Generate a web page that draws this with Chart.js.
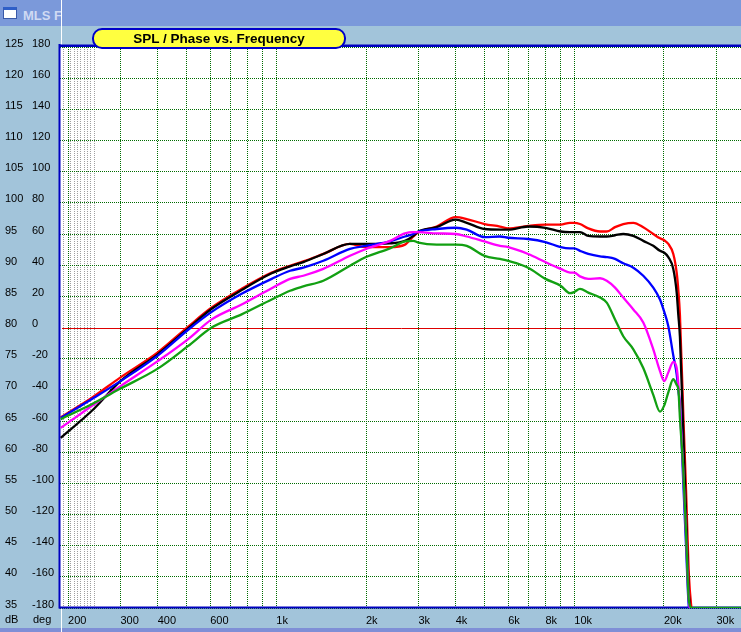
<!DOCTYPE html>
<html><head><meta charset="utf-8">
<script src="https://cdn.jsdelivr.net/npm/chart.js@4.4.1/dist/chart.umd.min.js"></script>
<style>
html,body{margin:0;padding:0;width:741px;height:632px;overflow:hidden;background:#a2c4da;}
#wrap{position:relative;width:741px;height:632px;}
#topbar{position:absolute;left:0;top:0;width:741px;height:26px;background:#7b99da;}
#bottombar{position:absolute;left:0;top:628px;width:741px;height:4px;background:#7f8fd6;}
#vline{position:absolute;left:61px;top:0;width:1px;height:632px;background:#ffffff;}
#icon{position:absolute;left:3px;top:7px;width:12px;height:8px;background:#fff;border:1px solid #3a5aa8;border-top:3px solid #2f5fc8;}
#wtitle{position:absolute;left:23px;top:8px;width:38px;overflow:hidden;white-space:nowrap;font:bold 13px "Liberation Sans",Arial,sans-serif;color:#cfdaf3;}
canvas{position:absolute;left:0;top:0;}
#title{position:absolute;left:92px;top:28px;width:250px;height:17px;background:#ffff40;border:2px solid #0000c8;border-radius:10px;font:bold 13.5px "Liberation Sans",Arial,sans-serif;text-align:center;line-height:17px;color:#000;z-index:3;}
.unit{position:absolute;top:613px;font:11px "Liberation Sans",Arial,sans-serif;color:#000;z-index:3;}
</style></head>
<body><div id="wrap">
<div id="topbar"></div><div id="bottombar"></div>
<div id="icon"></div><div id="wtitle">MLS Frequency</div>
<div id="vline"></div>
<canvas id="c" width="741" height="632"></canvas>
<div id="title">SPL / Phase vs. Frequency</div>
<span class="unit" style="left:5px">dB</span><span class="unit" style="left:33px">deg</span>
</div>
<script>
// ---- data ----
const freqHz = [189,240,300,400,505,607,765,965,1112,1232,1438,1767,2000,2407,2703,2883,3000,3453,4000,4355,5000,5632,6000,7000,8000,9000,9675,10000,10450,11140,12200,12850,13700,14600,15780,17040,18410,19390,20040,20680,21490,22060,22340,22620,23220,23710,24260,24830,30000,36260];
const splRed     = [65.6,68.7,72.0,76.0,80.1,83.2,86.2,88.8,89.9,90.6,91.8,93.4,92.9,92.9,93.3,94.6,95.3,96.2,97.7,97.4,96.6,96.2,95.9,96.3,96.5,96.5,96.8,96.8,96.6,95.9,95.4,95.4,96.1,96.6,96.8,96.1,95.0,94.3,94.0,93.4,91.8,88.8,86.0,82.0,66.0,54.0,40.0,34.0,null,null];
const splBlack   = [62.3,66.6,71.4,75.7,79.8,83.0,86.0,88.7,89.8,90.5,91.8,93.4,93.4,93.5,93.9,94.7,95.4,96.1,97.3,96.8,95.8,95.7,95.7,96.2,96.0,95.4,95.3,95.3,95.3,94.7,94.6,94.6,94.8,95.0,94.7,93.9,93.1,92.3,92.0,91.3,89.4,85.6,82.0,78.5,63.0,50.0,37.0,34.0,null,null];
const splBlue    = [65.5,68.5,71.4,75.5,79.6,82.5,85.4,87.8,89.1,89.6,90.7,92.6,93.1,93.8,94.6,95.0,95.4,95.8,96.0,95.7,94.5,94.6,94.4,94.2,93.7,92.9,92.7,92.7,92.3,91.8,91.4,91.3,91.0,90.3,89.6,88.3,86.4,84.5,82.5,80.2,75.5,72.5,70.0,67.5,55.0,45.0,35.0,34.0,null,null];
const splMagenta = [63.9,67.4,70.6,74.6,78.1,81.3,83.7,86.3,87.8,88.3,89.4,91.5,92.6,93.9,95.1,95.3,95.3,95.1,95.0,94.6,93.8,93.1,92.9,91.8,90.5,89.4,88.8,88.8,88.2,87.8,87.9,87.5,86.4,84.8,82.9,80.8,76.5,73.0,71.4,72.8,74.5,73.5,71.0,67.0,57.0,47.0,36.0,34.0,null,null];
const splGreen   = [65.3,67.7,70.2,73.4,77.0,80.0,82.1,84.5,85.9,86.6,87.5,89.9,91.3,92.7,93.8,93.9,93.6,93.3,93.3,93.1,91.5,91.0,90.7,89.6,87.8,86.7,85.5,85.7,86.2,85.6,84.8,84.0,81.3,78.6,76.5,73.5,69.2,66.5,67.5,69.6,71.7,70.8,70.1,65.5,57.0,47.0,36.0,35.0,35.0,35.0];
const freqMajor = [200,300,400,500,600,700,800,900,1000,2000,3000,4000,5000,6000,7000,8000,9000,10000,20000,30000];
const freqMajorLabels = ['200','300','400','','600','','','','1k','2k','3k','4k','','6k','','8k','','10k','20k','30k'];
const freqMinor = [193,204,209.5,215,221,226.6,232.7,238.8,245.2];
const FMIN = 188, FMAX = 36260;

const series = [
  {label:'green', data:splGreen, color:'#12a012'},
  {label:'magenta', data:splMagenta, color:'#ff00ff'},
  {label:'blue', data:splBlue, color:'#0000ff'},
  {label:'black', data:splBlack, color:'#000000'},
  {label:'red', data:splRed, color:'#ff0000'}
];
const datasets = series.map(s => ({
  label:s.label,
  data: freqHz.map((f,i) => ({x:f, y:s.data[i]})).filter(p => p.y !== null),
  borderColor:s.color, backgroundColor:s.color, borderWidth:2.3,
  pointRadius:0, cubicInterpolationMode:'monotone', fill:false
}));

const font = {family:'"Liberation Sans", Arial, sans-serif', size:11};
const isMinor = v => freqMinor.indexOf(v) >= 0;

const framePlugin = {
  id:'frame',
  beforeDraw(c){
    const {ctx, chartArea:a} = c;
    ctx.save(); ctx.fillStyle = '#ffffff';
    ctx.fillRect(a.left, a.top, a.right - a.left, a.bottom - a.top);
    ctx.restore();
  },
  beforeDatasetsDraw(c){
    const {ctx, chartArea:a} = c;
    const y80 = c.scales.y.getPixelForValue(80);
    ctx.save();
    ctx.strokeStyle = '#dd0000'; ctx.lineWidth = 1;
    ctx.beginPath(); ctx.moveTo(a.left + 2, Math.round(y80)+0.5); ctx.lineTo(a.right, Math.round(y80)+0.5); ctx.stroke();
    ctx.strokeStyle = '#0000c0';
    ctx.lineWidth = 2.5;
    ctx.beginPath(); ctx.moveTo(a.left - 1, a.top - 1.25); ctx.lineTo(a.right, a.top - 1.25); ctx.stroke();
    ctx.lineWidth = 2;
    ctx.beginPath(); ctx.moveTo(a.left - 1, a.bottom - 0.5); ctx.lineTo(a.right, a.bottom - 0.5); ctx.stroke();
    ctx.beginPath(); ctx.moveTo(a.left - 0.5, a.top - 3); ctx.lineTo(a.left - 0.5, a.bottom + 0.5); ctx.stroke();
    ctx.restore();
  }
};

new Chart(document.getElementById('c'), {
  type:'line',
  data:{datasets},
  plugins:[framePlugin],
  options:{
    responsive:false, animation:false, devicePixelRatio:1,
    layout:{padding:{left:5, top:47, right:0, bottom:0}},
    plugins:{legend:{display:false}, tooltip:{enabled:false}, title:{display:false}},
    scales:{
      x:{
        type:'logarithmic', position:'bottom', min:FMIN, max:FMAX, bounds:'data',
        afterBuildTicks: s => { s.ticks = freqMinor.concat(freqMajor).map(v => ({value:v})); },
        afterFit: s => { s.height = 24; },
        ticks:{autoSkip:false, maxRotation:0, minRotation:0, align:'start', padding:6, font, color:'#000',
          callback: v => { const i = freqMajor.indexOf(v); return i >= 0 ? freqMajorLabels[i] : ''; }},
        grid:{drawTicks:false, lineWidth:1, color: ctx => (ctx.tick && isMinor(ctx.tick.value)) ? '#a0a0a0' : '#006c00'},
        border:{display:false, dash:[1,1]}
      },
      y:{
        position:'left', weight:2, min:35, max:125, bounds:'data',
        afterFit: s => { s.width = 27; },
        ticks:{stepSize:5, crossAlign:'far', labelOffset:-3.5, padding:0, font, color:'#000'},
        grid:{drawTicks:false, lineWidth:1, color: ctx => (ctx.tick && ctx.tick.value === 80) ? 'rgba(0,0,0,0)' : '#006c00'},
        border:{display:false, dash:[1,1]}
      },
      y2:{
        position:'left', weight:1, min:-180, max:180, bounds:'data',
        afterFit: s => { s.width = 28; },
        ticks:{stepSize:20, crossAlign:'far', labelOffset:-3.5, padding:0, font, color:'#000'},
        grid:{display:false, drawTicks:false},
        border:{display:false}
      }
    }
  }
});
</script>
</body></html>
